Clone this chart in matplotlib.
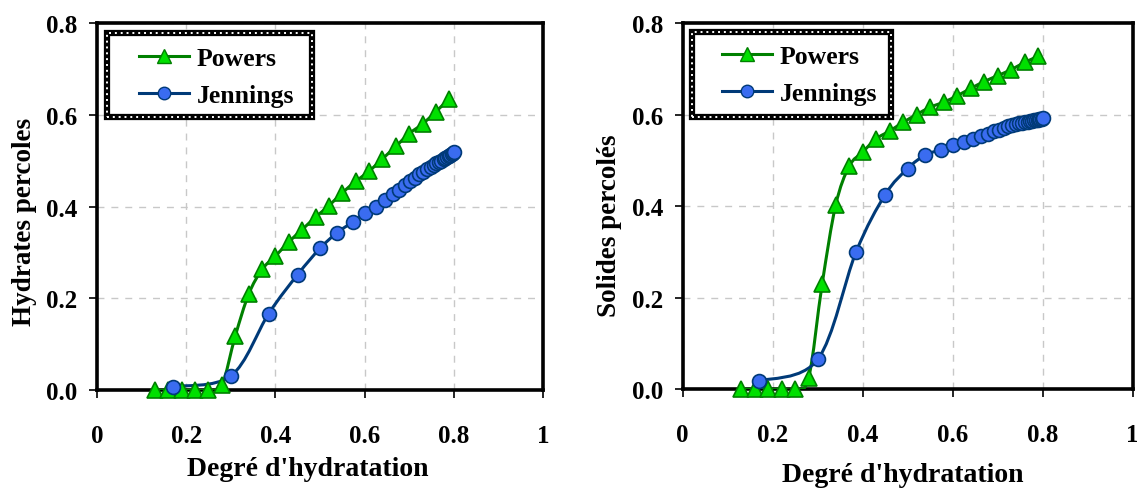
import numpy as np
import matplotlib
matplotlib.use("Agg")
import matplotlib.pyplot as plt
from matplotlib.path import Path
import matplotlib.patches as mpatches
from matplotlib.lines import Line2D

plt.rcParams["font.family"] = ["Liberation Serif", "DejaVu Serif"]
plt.rcParams["font.weight"] = "bold"

# degree of hydration for each series
powers_x = [0.13, 0.16, 0.19, 0.22, 0.25, 0.28, 0.31, 0.34, 0.37, 0.40, 0.43, 0.46,
            0.49, 0.52, 0.55, 0.58, 0.61, 0.64, 0.67, 0.70, 0.73, 0.76, 0.79]
jennings_x = [0.17, 0.30, 0.385, 0.45, 0.50, 0.538, 0.573, 0.601, 0.625, 0.645, 0.663,
              0.678, 0.691, 0.702, 0.713, 0.723, 0.732, 0.740, 0.748, 0.755, 0.761,
              0.767, 0.772, 0.777, 0.781, 0.785, 0.789, 0.792, 0.795, 0.798, 0.800]

# left panel : hydrates percoles
hyd_powers = [0, 0, 0, 0, 0, 0.011, 0.118, 0.209, 0.263, 0.292, 0.323, 0.350,
              0.377, 0.402, 0.430, 0.455, 0.477, 0.504, 0.531, 0.559, 0.580, 0.607, 0.635]
hyd_jennings = [0.008, 0.031, 0.167, 0.252, 0.309, 0.343, 0.366, 0.385, 0.399, 0.415, 0.428,
                0.437, 0.446, 0.455, 0.463, 0.471, 0.476, 0.481, 0.486, 0.490, 0.494,
                0.497, 0.500, 0.503, 0.505, 0.508, 0.510, 0.512, 0.514, 0.516, 0.518]

# right panel : solides percoles
sol_powers = [0, 0, 0, 0, 0, 0.025, 0.230, 0.402, 0.487, 0.518, 0.547, 0.564,
              0.583, 0.600, 0.616, 0.627, 0.641, 0.657, 0.672, 0.685, 0.698, 0.714, 0.727]
sol_jennings = [0.018, 0.065, 0.299, 0.425, 0.482, 0.511, 0.523, 0.534, 0.541, 0.547, 0.553,
                0.558, 0.563, 0.567, 0.571, 0.575, 0.577, 0.579, 0.581, 0.582, 0.583,
                0.584, 0.585, 0.586, 0.587, 0.588, 0.589, 0.590, 0.590, 0.591, 0.592]

x_ticks = [0, 0.2, 0.4, 0.6, 0.8, 1]
x_labels = ["0", "0.2", "0.4", "0.6", "0.8", "1"]
y_ticks = [0, 0.2, 0.4, 0.6, 0.8]
y_labels = ["0.0", "0.2", "0.4", "0.6", "0.8"]
series_names = ["Powers", "Jennings"]

FS = 18
GREEN_LINE = "#008000"
GREEN_FILL = "#00e000"
BLUE_LINE = "#003a78"
BLUE_FILL = "#3a6cf0"


def smooth_path(x, y):
    # excel-like smoothed line, as cubic bezier segments
    pts = np.column_stack([x, y]).astype(float)
    n = len(pts)
    verts = [pts[0]]
    codes = [Path.MOVETO]
    for i in range(n - 1):
        p0 = pts[i - 1] if i > 0 else pts[i]
        p1 = pts[i]
        p2 = pts[i + 1]
        p3 = pts[i + 2] if i + 2 < n else pts[i + 1]
        verts += [p1 + (p2 - p0) / 6.0, p2 - (p3 - p1) / 6.0, p2]
        codes += [Path.CURVE4] * 3
    return Path(verts, codes)


def panel(ax, py, jy, ylabel, ylab_pos, xlab_pos, box, leg_anchor):
    ax.add_patch(mpatches.PathPatch(smooth_path(powers_x, py), fill=False,
                                    edgecolor=GREEN_LINE, lw=2.2, zorder=3))
    ax.add_patch(mpatches.PathPatch(smooth_path(jennings_x, jy), fill=False,
                                    edgecolor=BLUE_LINE, lw=2.2, zorder=3))
    ax.plot(powers_x, py, linestyle="none", marker="^", ms=11, mfc=GREEN_FILL,
            mec=GREEN_LINE, mew=1.2, zorder=4, clip_on=False)
    ax.plot(jennings_x, jy, linestyle="none", marker="o", ms=10, mfc=BLUE_FILL,
            mec=BLUE_LINE, mew=1.2, zorder=5, clip_on=False)

    ax.set_xlim(0, 1)
    ax.set_ylim(0, 0.8)
    ax.set_xticks(x_ticks)
    ax.set_xticklabels(x_labels, fontsize=FS, fontweight="bold")
    ax.set_yticks(y_ticks)
    ax.set_yticklabels(y_labels, fontsize=FS, fontweight="bold")
    ax.tick_params(axis="x", direction="out", length=6, width=1.2, pad=18)
    ax.tick_params(axis="y", direction="out", length=6, width=1.2, pad=8)
    ax.grid(True, color="#c8c8c8", linestyle=(0, (5, 5)), lw=1)
    ax.set_axisbelow(True)
    for s in ax.spines.values():
        s.set_linewidth(2.6)
        s.set_color("black")

    ax.set_ylabel(ylabel, fontsize=19.5, fontweight="bold")
    ax.yaxis.set_label_coords(*ylab_pos)
    ax.set_xlabel("Degré d'hydratation", fontsize=20, fontweight="bold")
    ax.xaxis.set_label_coords(*xlab_pos)

    # legend box: thick black border with a white dotted pattern on it
    x0, y0, w, h = box
    ax.add_patch(mpatches.Rectangle((x0, y0), w, h, transform=ax.transAxes,
                                    facecolor="white", edgecolor="black", lw=4.5,
                                    zorder=9, clip_on=False))
    ax.add_patch(mpatches.Rectangle((x0, y0), w, h, transform=ax.transAxes,
                                    fill=False, edgecolor="white", lw=1.4,
                                    linestyle=(0, (1, 2)), zorder=9.5, clip_on=False))

    handles = [Line2D([], [], color=GREEN_LINE, lw=2.2, marker="^", ms=10,
                      mfc=GREEN_FILL, mec=GREEN_LINE),
               Line2D([], [], color=BLUE_LINE, lw=2.2, marker="o", ms=9,
                      mfc=BLUE_FILL, mec=BLUE_LINE)]
    leg = ax.legend(handles, series_names, loc="upper left",
                    bbox_to_anchor=leg_anchor, borderaxespad=0, borderpad=0,
                    frameon=False, fontsize=18.5, handlelength=1.95,
                    handletextpad=0.3, labelspacing=0.55)
    leg.set_zorder(10)


fig = plt.figure(figsize=(11.37, 4.89), dpi=100)
ax1 = fig.add_axes([0.0853, 0.200, 0.3923, 0.751])
ax2 = fig.add_axes([0.6004, 0.202, 0.3958, 0.749])

panel(ax1, hyd_powers, hyd_jennings, "Hydrates percoles", (-0.135, 0.46), (0.473, -0.18),
      (0.022, 0.744, 0.46, 0.229), (0.094, 0.935))
panel(ax2, sol_powers, sol_jennings, "Solides percolés", (-0.135, 0.45), (0.49, -0.2),
      (0.021, 0.743, 0.442, 0.232), (0.087, 0.94))

fig.savefig("out.png", dpi=100)
